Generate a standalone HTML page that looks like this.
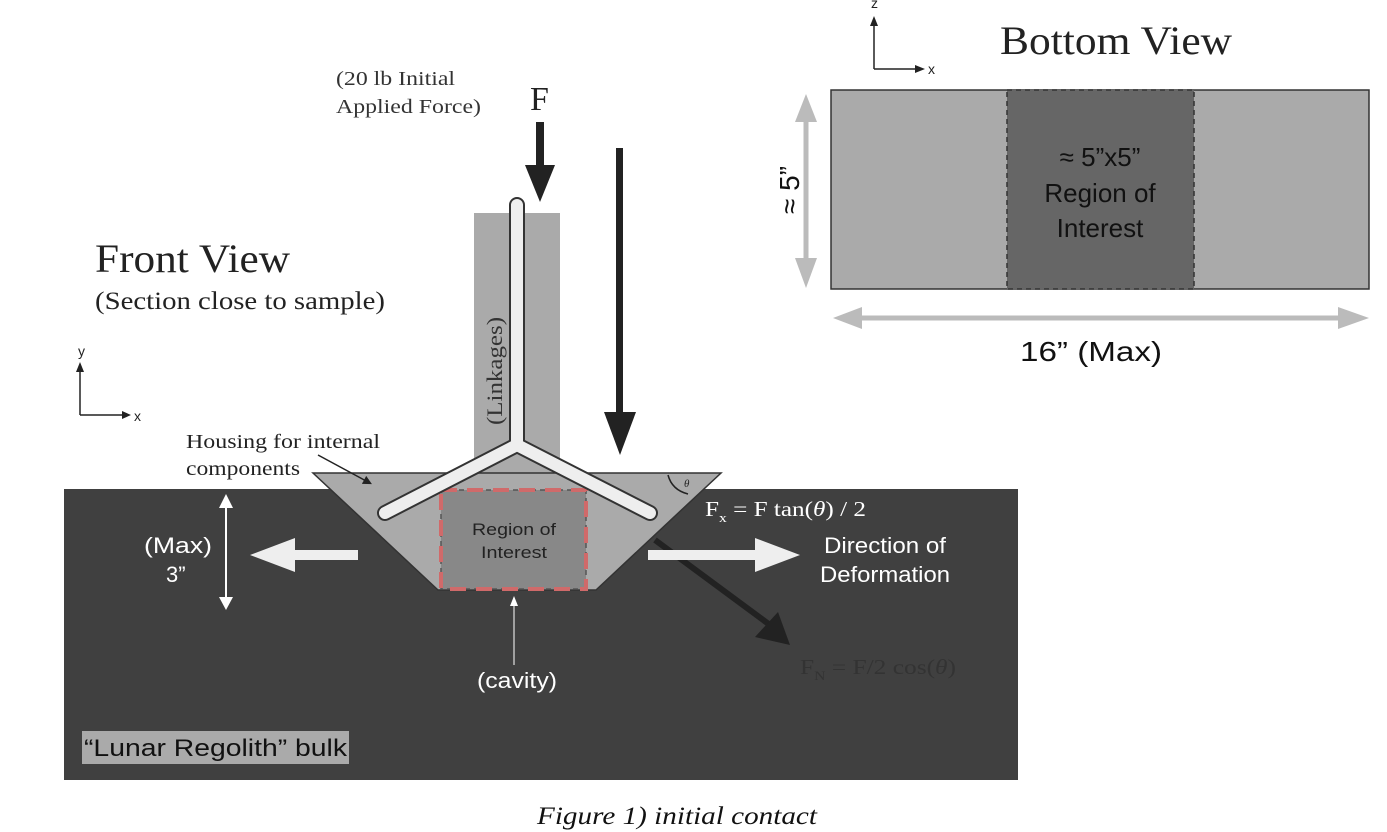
<!DOCTYPE html>
<html><head><meta charset="utf-8"><style>
body{margin:0;background:#fff}
svg{display:block}
.serif{font-family:"Liberation Serif",serif}
.sans{font-family:"Liberation Sans",sans-serif}
</style></head><body>
<svg width="1387" height="832" viewBox="0 0 1387 832">
<defs>
<marker id="ah" markerWidth="6" markerHeight="6" refX="3" refY="3" orient="auto"><path d="M0,0 L6,3 L0,6z" fill="#222"/></marker>
</defs>
<rect x="64" y="489" width="954" height="291" fill="#404040"/>
<rect x="474" y="213" width="86" height="262" fill="#aaaaaa"/>
<text class="serif" font-size="22" fill="#333" transform="translate(502,425) rotate(-90)" textLength="108" lengthAdjust="spacingAndGlyphs">(Linkages)</text>
<polygon points="313,473 721,473 596,590 438,590" fill="#aaaaaa" stroke="#333" stroke-width="1.5"/>
<rect x="441" y="490" width="145" height="99" fill="#888" stroke="#555" stroke-dasharray="5,4" stroke-width="1.5"/>
<rect x="441" y="490" width="145" height="99" fill="none" stroke="#d06a6a" stroke-dasharray="16,10" stroke-width="4"/>
<text class="sans" font-size="17" fill="#222" text-anchor="middle" x="514" y="535" textLength="84" lengthAdjust="spacingAndGlyphs">Region of</text>
<text class="sans" font-size="17" fill="#222" text-anchor="middle" x="514" y="558" textLength="66" lengthAdjust="spacingAndGlyphs">Interest</text>
<g stroke-linecap="round">
<path d="M517,205 L517,445 M517,445 L385,513 M517,445 L650,513" stroke="#333" stroke-width="16" fill="none"/>
<path d="M517,205 L517,445 L385,513 M517,445 L650,513" stroke="#eee" stroke-width="12" fill="none" stroke-linejoin="round"/>
</g>
<g>
<rect x="536" y="122" width="8" height="45" fill="#222"/><polygon points="525,165 555,165 540,202" fill="#222"/>
</g>
<text class="serif" x="530" y="110" font-size="34" fill="#222">F</text>
<text class="serif" font-size="20" fill="#333" x="336" y="85" textLength="119" lengthAdjust="spacingAndGlyphs">(20 lb Initial</text>
<text class="serif" font-size="20" fill="#333" x="336" y="113" textLength="145" lengthAdjust="spacingAndGlyphs">Applied Force)</text>
<g>
<rect x="616" y="148" width="7" height="270" fill="#222"/><polygon points="604,412 636,412 620,455" fill="#222"/>
</g>
<line x1="655" y1="540" x2="770" y2="625" stroke="#222" stroke-width="6"/>
<polygon points="755,637 790,645 778,612" fill="#222"/>
<text class="serif" font-size="21" fill="#333" x="800" y="674" textLength="156" lengthAdjust="spacingAndGlyphs">F<tspan font-size="13" dy="6">N</tspan><tspan dy="-6"> =  F/2 cos(</tspan><tspan font-style="italic">θ</tspan>)</text>
<path d="M668,475 Q672,490 688,494" stroke="#222" fill="none" stroke-width="1.5"/>
<text class="serif" font-style="italic" font-size="11" fill="#222" x="684" y="487">θ</text>
<text class="serif" font-size="21" fill="#fff" x="705" y="516" textLength="161" lengthAdjust="spacingAndGlyphs">F<tspan font-size="13" dy="6">x</tspan><tspan dy="-6"> =  F tan(</tspan><tspan font-style="italic">θ</tspan>) / 2</text>
<g fill="#eee">
<rect x="290" y="550" width="68" height="10"/><polygon points="250,555 295,538 295,572"/>
<rect x="648" y="550" width="112" height="10"/><polygon points="800,555 755,538 755,572"/>
</g>
<text class="sans" font-size="22" fill="#fff" x="824" y="553" textLength="122" lengthAdjust="spacingAndGlyphs">Direction of</text>
<text class="sans" font-size="22" fill="#fff" x="820" y="582" textLength="130" lengthAdjust="spacingAndGlyphs">Deformation</text>
<line x1="226" y1="500" x2="226" y2="605" stroke="#fff" stroke-width="2"/>
<polygon points="219,508 233,508 226,494" fill="#fff"/><polygon points="219,597 233,597 226,610" fill="#fff"/>
<text class="sans" font-size="22" fill="#fff" x="144" y="553" textLength="68" lengthAdjust="spacingAndGlyphs">(Max)</text>
<text class="sans" font-size="22" fill="#fff" x="166" y="582">3”</text>
<line x1="514" y1="600" x2="514" y2="665" stroke="#fff" stroke-width="1"/>
<polygon points="510,606 518,606 514,596" fill="#fff"/>
<text class="sans" font-size="22" fill="#fff" x="477" y="688" textLength="80" lengthAdjust="spacingAndGlyphs">(cavity)</text>
<rect x="82" y="731" width="267" height="33" fill="#aaa"/>
<text class="sans" font-size="24" fill="#111" x="84" y="756" textLength="263" lengthAdjust="spacingAndGlyphs">“Lunar Regolith” bulk</text>
<text class="serif" font-size="20" fill="#222" x="186" y="448" textLength="194" lengthAdjust="spacingAndGlyphs">Housing for internal</text>
<text class="serif" font-size="20" fill="#222" x="186" y="475" textLength="114" lengthAdjust="spacingAndGlyphs">components</text>
<line x1="318" y1="455" x2="368" y2="482" stroke="#222" stroke-width="1.5" marker-end="url(#ah)"/>
<text class="serif" font-size="40" fill="#222" x="95" y="272" textLength="195" lengthAdjust="spacingAndGlyphs">Front View</text>
<text class="serif" font-size="25" fill="#222" x="95" y="309" textLength="290" lengthAdjust="spacingAndGlyphs">(Section close to sample)</text>
<g stroke="#222" stroke-width="1.5"><line x1="80" y1="415" x2="80" y2="368"/><line x1="80" y1="415" x2="125" y2="415"/></g>
<polygon points="76,372 84,372 80,362" fill="#222"/><polygon points="122,411 122,419 131,415" fill="#222"/>
<text class="sans" font-size="14" fill="#222" x="78" y="356">y</text><text class="sans" font-size="14" fill="#222" x="134" y="421">x</text>
<g stroke="#222" stroke-width="1.5"><line x1="874" y1="69" x2="874" y2="22"/><line x1="874" y1="69" x2="918" y2="69"/></g>
<polygon points="870,26 878,26 874,16" fill="#222"/><polygon points="915,65 915,73 925,69" fill="#222"/>
<text class="sans" font-size="14" fill="#222" x="871" y="8">z</text><text class="sans" font-size="14" fill="#222" x="928" y="74">x</text>
<text class="serif" font-size="40" fill="#222" x="1000" y="54" textLength="232" lengthAdjust="spacingAndGlyphs">Bottom View</text>
<rect x="831" y="90" width="538" height="199" fill="#aaa" stroke="#333" stroke-width="1.5"/>
<rect x="1007" y="90" width="187" height="199" fill="#666" stroke="#333" stroke-dasharray="5,4" stroke-width="1.5"/>
<text class="sans" font-size="26" fill="#111" text-anchor="middle" x="1100" y="166">≈ 5”x5”</text>
<text class="sans" font-size="26" fill="#111" text-anchor="middle" x="1100" y="202">Region of</text>
<text class="sans" font-size="26" fill="#111" text-anchor="middle" x="1100" y="237">Interest</text>
<line x1="806" y1="110" x2="806" y2="270" stroke="#bbb" stroke-width="5"/>
<polygon points="795,122 817,122 806,94" fill="#bbb"/><polygon points="795,258 817,258 806,288" fill="#bbb"/>
<text class="sans" font-size="28" fill="#111" transform="translate(799,190) rotate(-90)" text-anchor="middle">≈ 5”</text>
<line x1="850" y1="318" x2="1350" y2="318" stroke="#bbb" stroke-width="5"/>
<polygon points="862,307 862,329 833,318" fill="#bbb"/><polygon points="1338,307 1338,329 1369,318" fill="#bbb"/>
<text class="sans" font-size="28" fill="#111" x="1020" y="361" textLength="142" lengthAdjust="spacingAndGlyphs">16” (Max)</text>
<text class="serif" font-style="italic" font-size="25" fill="#111" x="537" y="824" textLength="280" lengthAdjust="spacingAndGlyphs">Figure 1) initial contact</text>
</svg>
</body></html>
